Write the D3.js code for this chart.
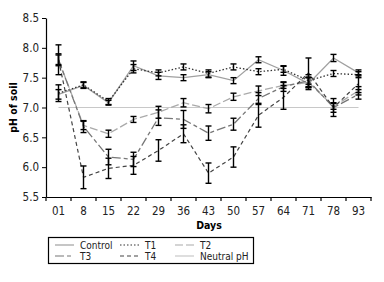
<!DOCTYPE html>
<html>
<head>
<meta charset="utf-8">
<script src="https://cdn.jsdelivr.net/npm/d3@7"></script>
<style>
  body { margin: 0; background: #fff; }
  svg text { font-family: "Liberation Sans Narrow", "DejaVu Sans Condensed", "Liberation Sans", Arial, sans-serif; font-stretch: condensed; }
</style>
</head>
<body>
<div id="chart"></div>
<script>
// sampling days
const days = ["01", "8", "15", "22", "29", "36", "43", "50", "57", "64", "71", "78", "93"];

const control = [7.22, 7.37, 7.08, 7.70, 7.53, 7.50, 7.55, 7.45, 7.80, 7.62, 7.40, 7.83, 7.58];
const t1      = [7.24, 7.38, 7.10, 7.65, 7.58, 7.68, 7.57, 7.68, 7.60, 7.64, 7.45, 7.57, 7.55];
const t2      = [7.80, 6.70, 6.56, 6.80, 6.92, 7.08, 6.98, 7.18, 7.28, 7.37, 7.42, 7.02, 7.28];
const t3      = [7.80, 6.68, 6.17, 6.13, 6.83, 6.80, 6.57, 6.72, 7.15, 7.35, 7.45, 7.00, 7.22];
const t4      = [7.80, 5.83, 5.98, 6.03, 6.28, 6.56, 5.90, 6.17, 6.87, 7.17, 7.58, 7.00, 7.40];

const errControl = [0.08, 0.05, 0.04, 0.08, 0.06, 0.05, 0.05, 0.05, 0.05, 0.08, 0.10, 0.06, 0.05];
const errT1      = [0.14, 0.05, 0.05, 0.07, 0.05, 0.05, 0.06, 0.05, 0.05, 0.05, 0.06, 0.05, 0.05];
const errT2      = [0.08, 0.07, 0.06, 0.05, 0.10, 0.07, 0.07, 0.06, 0.08, 0.05, 0.08, 0.05, 0.07];
const errT3      = [0.25, 0.10, 0.13, 0.12, 0.13, 0.15, 0.12, 0.10, 0.10, 0.08, 0.10, 0.08, 0.08];
const errT4      = [0.10, 0.19, 0.17, 0.15, 0.18, 0.15, 0.17, 0.17, 0.20, 0.20, 0.25, 0.15, 0.15];

const yTicks = [5.5, 6.0, 6.5, 7.0, 7.5, 8.0, 8.5];
const neutral = 7.0;

const series = [
  {name: "Control", vals: control, err: errControl, color: "#a0a0a0", dash: null, w: 1.3},
  {name: "T1", vals: t1, err: errT1, color: "#333", dash: "1.5,2", w: 1.3},
  {name: "T2", vals: t2, err: errT2, color: "#aaa", dash: "8,3", w: 1.3},
  {name: "T3", vals: t3, err: errT3, color: "#777", dash: "9,3,4,3", w: 1.3},
  {name: "T4", vals: t4, err: errT4, color: "#444", dash: "4,3", w: 1.2}
];

const width = 384, height = 282;
const margin = {top: 18, right: 13, bottom: 85, left: 46};

const svg = d3.select("#chart").append("svg")
  .attr("width", width).attr("height", height);

const x = d3.scaleBand().domain(days).range([margin.left, width - margin.right]);
const y = d3.scaleLinear().domain([5.5, 8.5]).range([height - margin.bottom, margin.top]);
const cx = d => x(d) + x.bandwidth() / 2;

// neutral line
svg.append("line")
  .attr("x1", cx(days[0])).attr("x2", cx(days[days.length - 1]))
  .attr("y1", y(neutral)).attr("y2", y(neutral))
  .attr("stroke", "#c8c8c8").attr("stroke-width", 1.2);

const line = d3.line().x((d, i) => cx(days[i])).y(d => y(d));

series.forEach(s => {
  svg.append("path")
    .datum(s.vals)
    .attr("fill", "none")
    .attr("stroke", s.color)
    .attr("stroke-width", s.w)
    .attr("stroke-dasharray", s.dash)
    .attr("d", line);
});

// error bars
series.forEach(s => {
  const g = svg.append("g").attr("stroke", "#000").attr("stroke-width", 1.4);
  s.vals.forEach((v, i) => {
    const px = cx(days[i]);
    const lo = y(v - s.err[i]), hi = y(v + s.err[i]);
    g.append("line").attr("x1", px).attr("x2", px).attr("y1", lo).attr("y2", hi);
    g.append("line").attr("x1", px - 3).attr("x2", px + 3).attr("y1", lo).attr("y2", lo);
    g.append("line").attr("x1", px - 3).attr("x2", px + 3).attr("y1", hi).attr("y2", hi);
  });
});

// axes
const yAxis = svg.append("g")
  .attr("transform", `translate(${margin.left},0)`)
  .call(d3.axisLeft(y).tickValues(yTicks).tickFormat(d3.format(".1f")).tickSize(4).tickSizeOuter(0));
yAxis.selectAll("text").attr("font-size", 11.5).attr("fill", "#222").attr("x", -7);
yAxis.select(".domain").attr("stroke-width", 1.2);

const xAxis = svg.append("g")
  .attr("transform", `translate(0,${height - margin.bottom})`)
  .call(d3.axisBottom(x).tickSize(0).tickSizeOuter(0));
xAxis.selectAll("text").attr("font-size", 11.5).attr("fill", "#222").attr("dy", "0.71em").attr("y", 10);
xAxis.select(".domain").attr("stroke-width", 1.2);
// tick marks on band boundaries
xAxis.selectAll(".bound")
  .data(d3.range(days.length + 1))
  .join("line")
  .attr("x1", i => margin.left + i * x.step())
  .attr("x2", i => margin.left + i * x.step())
  .attr("y1", 0).attr("y2", 4)
  .attr("stroke", "#000").attr("stroke-width", 1.2);

svg.append("text")
  .attr("x", 209).attr("y", 229)
  .attr("text-anchor", "middle")
  .attr("font-size", 10.5).attr("font-weight", "bold")
  .text("Days");

svg.append("text")
  .attr("transform", `translate(17,${y(7.0)}) rotate(-90)`)
  .attr("text-anchor", "middle")
  .attr("font-size", 10.5).attr("font-weight", "bold")
  .text("pH of soil");

// legend
const legend = svg.append("g");
legend.append("rect")
  .attr("x", 48.5).attr("y", 237.5).attr("width", 205).attr("height", 26)
  .attr("fill", "#fff").attr("stroke", "#000").attr("stroke-width", 1.2);

const legendItems = [
  {name: "Control", color: "#a0a0a0", dash: null},
  {name: "T1", color: "#333", dash: "1.5,2"},
  {name: "T2", color: "#aaa", dash: "8,3"},
  {name: "T3", color: "#777", dash: "9,3,4,3"},
  {name: "T4", color: "#444", dash: "4,3"},
  {name: "Neutral pH", color: "#c8c8c8", dash: null}
];
const colX = [55, 120, 175];
legendItems.forEach((it, i) => {
  const col = i % 3, row = Math.floor(i / 3);
  const lx = colX[col], ly = 245 + row * 11;
  legend.append("line")
    .attr("x1", lx).attr("x2", lx + 19).attr("y1", ly).attr("y2", ly)
    .attr("stroke", it.color).attr("stroke-width", 1.2)
    .attr("stroke-dasharray", it.dash);
  legend.append("text")
    .attr("x", lx + 25).attr("y", ly + 3.5)
    .attr("font-size", 10).attr("fill", "#222")
    .text(it.name);
});
</script>
</body>
</html>
